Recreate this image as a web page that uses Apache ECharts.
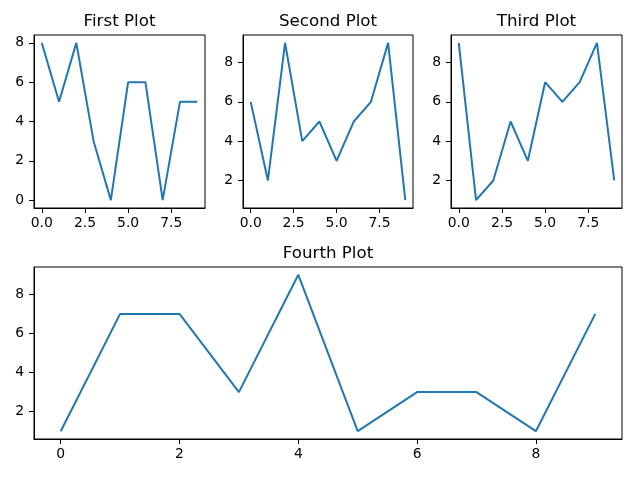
<!DOCTYPE html>
<html>
<head>
<meta charset="utf-8">
<script src="https://cdn.jsdelivr.net/npm/echarts@6/dist/echarts.min.js"></script>
<style>
    html, body { margin: 0; padding: 0; background: #fff; }
    #chart { width: 640px; height: 478px; }
</style>
</head>
<body>
<div id="chart"></div>
<script>
// x 轴数据 (0..9)
const xValues = [0, 1, 2, 3, 4, 5, 6, 7, 8, 9];

// 四个子图的数据
const firstValues = [8, 5, 8, 3, 0, 6, 6, 0, 5, 5];
const secondValues = [6, 2, 9, 4, 5, 3, 5, 6, 9, 1];
const thirdValues = [9, 1, 2, 5, 3, 7, 6, 7, 9, 2];
const fourthValues = [1, 7, 7, 3, 9, 1, 3, 3, 1, 7];

// 标题
const plotTitles = ['First Plot', 'Second Plot', 'Third Plot', 'Fourth Plot'];

// 刻度
const smallXTicks = [0, 2.5, 5, 7.5];
const wideXTicks = [0, 2, 4, 6, 8];
const firstYTicks = [0, 2, 4, 6, 8];
const otherYTicks = [2, 4, 6, 8];

const FONT = 'DejaVu Sans';
const LINE_COLOR = '#1f77b4';

// 子图布局
const grids = [
    { left: 34, top: 35, width: 171, height: 173 },
    { left: 243, top: 35, width: 170, height: 173 },
    { left: 451, top: 35, width: 171, height: 173 },
    { left: 34, top: 267, width: 588, height: 172 }
];

// 按 matplotlib 的 5% 边距计算范围
function padRange(values) {
    const lo = Math.min(...values);
    const hi = Math.max(...values);
    const pad = (hi - lo) * 0.05;
    return [lo - pad, hi + pad];
}

function makeAxis(index, type, range, ticks, fmt) {
    return {
        type: 'value',
        gridIndex: index,
        min: range[0],
        max: range[1],
        axisLine: { show: true, onZero: false, lineStyle: { color: '#000', width: 1 } },
        axisTick: {
            show: true,
            customValues: ticks,
            length: 5,
            inside: false,
            lineStyle: { color: '#000', width: 1 }
        },
        axisLabel: {
            customValues: ticks,
            color: '#000',
            fontFamily: FONT,
            fontSize: 13.9,
            margin: type === 'x' ? 8 : 10,
            formatter: fmt
        },
        splitLine: { show: false }
    };
}

const allValues = [firstValues, secondValues, thirdValues, fourthValues];
const yTickSets = [firstYTicks, otherYTicks, otherYTicks, otherYTicks];
const xTickSets = [smallXTicks, smallXTicks, smallXTicks, wideXTicks];

const xRange = padRange(xValues);
const xAxes = [];
const yAxes = [];
const series = [];
const titles = [];

allValues.forEach((vals, i) => {
    const fmtX = i < 3 ? (v) => v.toFixed(1) : (v) => String(v);
    xAxes.push(makeAxis(i, 'x', xRange, xTickSets[i], fmtX));
    yAxes.push(makeAxis(i, 'y', padRange(vals), yTickSets[i], (v) => String(v)));
    series.push({
        type: 'line',
        xAxisIndex: i,
        yAxisIndex: i,
        data: xValues.map((x, k) => [x, vals[k]]),
        showSymbol: false,
        symbol: 'none',
        lineStyle: { color: LINE_COLOR, width: 2 },
        animation: false
    });
    const g = grids[i];
    titles.push({
        text: plotTitles[i],
        left: g.left + g.width / 2,
        top: g.top - 22,
        padding: 0,
        textAlign: 'center',
        textStyle: { fontFamily: FONT, fontSize: 16.7, fontWeight: 'normal', color: '#000' }
    });
});

const chart = echarts.init(document.getElementById('chart'));
chart.setOption({
    backgroundColor: '#fff',
    animation: false,
    title: titles,
    grid: grids.map((g) => Object.assign({ show: true, borderColor: '#000', borderWidth: 1, backgroundColor: 'transparent' }, g)),
    xAxis: xAxes,
    yAxis: yAxes,
    series: series
});
</script>
</body>
</html>
